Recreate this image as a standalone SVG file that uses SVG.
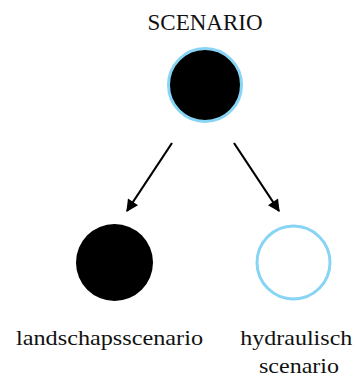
<svg xmlns="http://www.w3.org/2000/svg" width="357" height="378" viewBox="0 0 357 378">
  <style>
    .label { font-family: "Liberation Serif", "DejaVu Serif", serif; font-size: 22px; fill: #111; text-anchor: middle; }
    .node-dark { fill: #000; }
    .node-open { fill: #fff; stroke: #87d4f4; stroke-width: 3; }
    .node-ring { fill: #000; stroke: #87d4f4; stroke-width: 3; }
    .edge { stroke: #000; stroke-width: 2.2; fill: none; marker-end: url(#arrow); }
  </style>
  <defs>
    <marker id="arrow" viewBox="0 0 10 10" refX="9" refY="5" markerWidth="6" markerHeight="5.5" markerUnits="strokeWidth" orient="auto">
      <path d="M0,0 L10,5 L0,10 z" fill="#000"/>
    </marker>
  </defs>
  <rect width="357" height="378" fill="#fff"/>

  <g id="connectors">
    <line class="edge" x1="172" y1="143" x2="127" y2="211"/>
    <line class="edge" x1="234" y1="143" x2="279" y2="211"/>
  </g>

  <g id="scenario">
    <text class="label" x="205" y="30" style="font-size:22.5px" textLength="115" lengthAdjust="spacingAndGlyphs">SCENARIO</text>
    <circle class="node-ring" cx="205" cy="85" r="36.5"/>
  </g>

  <g id="landschapsscenario">
    <circle class="node-dark" cx="114.5" cy="262.5" r="38.5"/>
    <text class="label" x="109.5" y="345" textLength="187" lengthAdjust="spacingAndGlyphs">landschapsscenario</text>
  </g>

  <g id="hydraulisch-scenario">
    <circle class="node-open" cx="293.5" cy="262.5" r="36.5"/>
    <text class="label" x="296.3" y="345" textLength="112" lengthAdjust="spacingAndGlyphs">hydraulisch</text>
    <text class="label" x="299" y="373" textLength="80" lengthAdjust="spacingAndGlyphs">scenario</text>
  </g>
</svg>
